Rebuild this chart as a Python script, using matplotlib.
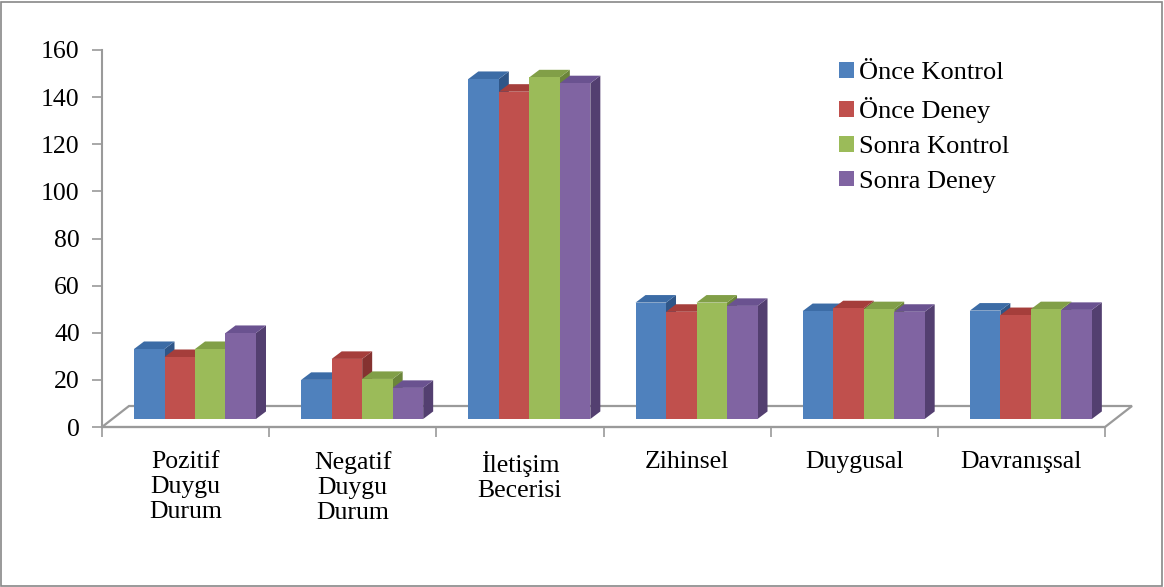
import numpy as np
import matplotlib.pyplot as plt
from matplotlib.patches import Polygon, Patch, Rectangle

plt.rcParams['font.family'] = ['Liberation Serif', 'DejaVu Serif']

categories = ['Pozitif\nDuygu\nDurum', 'Negatif\nDuygu\nDurum', 'İletişim\nBecerisi',
              'Zihinsel', 'Duygusal', 'Davranışsal']
series_names = ['Önce Kontrol', 'Önce Deney', 'Sonra Kontrol', 'Sonra Deney']
once_kontrol = [29.7, 16.6, 144.3, 49.4, 45.8, 46.0]
once_deney = [26.3, 25.5, 138.9, 45.5, 47.0, 44.1]
sonra_kontrol = [29.7, 17.0, 145.0, 49.4, 46.6, 46.6]
sonra_deney = [36.5, 13.2, 142.5, 48.0, 45.5, 46.3]
yticks = [0, 20, 40, 60, 80, 100, 120, 140, 160]

series_values = [once_kontrol, once_deney, sonra_kontrol, sonra_deney]
# front, top, side shades for each series
front_cols = ['#4F81BD', '#C0504D', '#9BBB59', '#8064A2']
top_cols = ['#3C6CA6', '#A53E3B', '#819F47', '#6A5290']
side_cols = ['#2F5688', '#853230', '#6B853A', '#533F70']

FS = 18.5
W, H = 1164, 587
fig = plt.figure(figsize=(W / 100, H / 100), dpi=100)
px_x = 167.17  # pixels per category
ax = fig.add_axes([102 / W, (H - 427) / H, 6.3 * px_x / W, 377 / H])
ax.set_xlim(0, 6.3)
ax.set_ylim(0, 160)

grey = '#9a9a9a'
for s in ['top', 'right']:
    ax.spines[s].set_visible(False)
ax.spines['left'].set_color(grey)
ax.spines['left'].set_linewidth(1.5)
ax.spines['bottom'].set_color(grey)
ax.spines['bottom'].set_linewidth(1.5)
ax.spines['bottom'].set_bounds(0, 6)

ax.set_yticks(yticks)
ax.set_xticks(range(7))
ax.set_xticklabels([])
ax.tick_params(axis='both', direction='out', length=7, width=1.2, color=grey,
               labelsize=FS, pad=9)

# floor of the 3-D plot
fdx, fdy = 27 / px_x, 21 / 2.356
floor = Polygon([(0, 0), (6, 0), (6 + fdx, fdy), (fdx, fdy)], closed=True,
                facecolor='white', edgecolor=grey, lw=1.6, zorder=1, clip_on=False)
ax.add_patch(floor)

bw = 30.5 / px_x          # bar width
bdx, bdy = 10 / px_x, 3.2  # bar depth
y0 = 8 / 2.356             # bars stand in the middle of the floor
x_start = 32 / px_x

for i in range(len(categories)):
    for j, vals in enumerate(series_values):
        x = i + x_start + j * bw
        h = vals[i]
        top = y0 + h
        front = Rectangle((x, y0), bw, h, facecolor=front_cols[j], edgecolor='none',
                          zorder=3 + i * 10 + j)
        lid = Polygon([(x, top), (x + bw, top), (x + bw + bdx, top + bdy), (x + bdx, top + bdy)],
                      facecolor=top_cols[j], edgecolor='none', zorder=3 + i * 10 + j)
        side = Polygon([(x + bw, y0), (x + bw + bdx, y0 + bdy), (x + bw + bdx, top + bdy), (x + bw, top)],
                       facecolor=side_cols[j], edgecolor='none', zorder=3 + i * 10 + j)
        for p in (side, lid, front):
            p.set_clip_on(False)
            ax.add_patch(p)

for i, name in enumerate(categories):
    ax.text(i + 0.5, -10, name, ha='center', va='top', fontsize=FS, linespacing=1.18)

handles = [Patch(facecolor=c, edgecolor='none') for c in front_cols]
fig.legend(handles, series_names, loc='upper left', bbox_to_anchor=(839 / W, 1 - 62 / H),
           frameon=False, fontsize=FS + 0.5, handlelength=0.55, handleheight=0.55,
           handletextpad=0.2, labelspacing=0.48, borderpad=0, borderaxespad=0)

fig.patches.append(Rectangle((1 / W, 1 / H), (W - 3) / W, (H - 3) / H, transform=fig.transFigure,
                             fill=False, edgecolor='#888888', lw=1.2))

fig.savefig('out.png', dpi=100)
